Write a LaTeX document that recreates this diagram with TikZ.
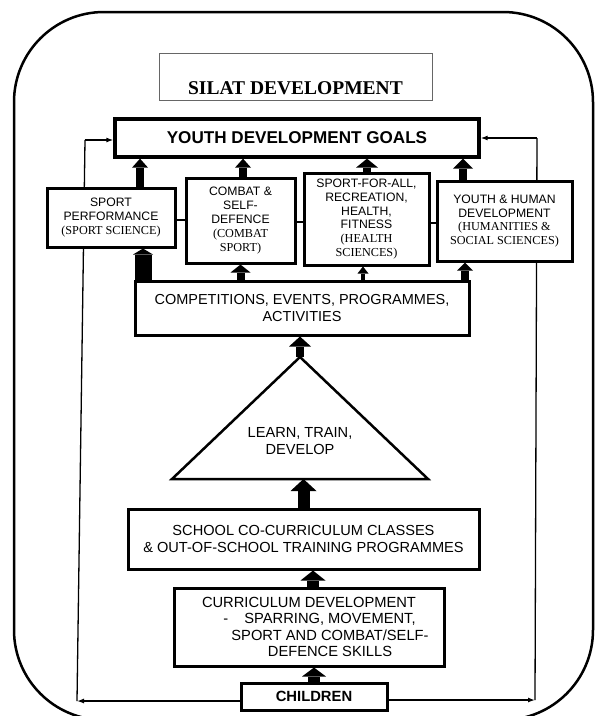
\documentclass[tikz,border=0pt]{standalone}
\usepackage{fontspec}
\setmainfont{Liberation Sans}
\newfontfamily\tnr{Liberation Serif}
\usetikzlibrary{arrows.meta}
\pgfdeclarelayer{bg}
\pgfsetlayers{bg,main}
\tikzset{
  box/.style={draw, line width=3pt, fill=white, inner sep=0pt, align=center},
  fS/.style={font=\fontsize{12.2}{13.8}\selectfont},
  fM/.style={font=\fontsize{14.6}{17}\selectfont},
  thinline/.style={line width=1.3pt},
  thinarr/.style={line width=1.3pt, -{Latex[length=7pt,width=5pt]}},
  blk/.style n args={3}{line width=#1pt, -{Triangle[width=#2pt,length=#3pt,line width=0pt]}},
}
\begin{document}
\begin{tikzpicture}[x=1pt,y=-1pt]
\useasboundingbox (0,0) rectangle (600,716);
\clip (0,0) rectangle (600,716);
% outer frame
\node[draw, line width=2.5pt, rounded corners=90pt, minimum width=579pt, minimum height=708pt, inner sep=0pt] (frame) at (303.5,366) {};
% title
\node[draw=black!60, line width=0.8pt, fill=white, anchor=base, inner xsep=0pt, inner ysep=0pt,
      minimum width=273pt, text height=41pt, text depth=6pt,
      font=\tnr\bfseries\fontsize{19.5}{22}\selectfont] (title) at (295.5,94) {SILAT DEVELOPMENT};
% goals
\node[box, line width=3.3pt, minimum width=364pt, minimum height=38pt,
      font=\bfseries\fontsize{17.1}{19}\selectfont] (goals) at (297,138) {YOUTH DEVELOPMENT GOALS};
% four boxes
\node[box, fS, minimum width=128pt, minimum height=59pt] (sp) at (111,217.5)
  {SPORT\\PERFORMANCE\\{\tnr (SPORT SCIENCE)}};
\node[box, fS, minimum width=109pt, minimum height=85pt] (combat) at (240.5,220.5)
  {COMBAT \&\\SELF-\\DEFENCE\\{\tnr (COMBAT}\\{\tnr SPORT)}};
\node[box, fS, minimum width=125pt, minimum height=92pt] (sfa) at (366.5,219)
  {SPORT-FOR-ALL,\\RECREATION,\\HEALTH,\\FITNESS\\{\tnr (HEALTH}\\{\tnr SCIENCES)}};
\node[box, fS, minimum width=135pt, minimum height=80pt] (yh) at (504.5,221)
  {YOUTH \& HUMAN\\DEVELOPMENT\\{\tnr (HUMANITIES \&}\\{\tnr SOCIAL SCIENCES)}};
% competitions
\node[box, font=\fontsize{14.5}{17}\selectfont, minimum width=334pt, minimum height=54pt] (comp) at (302,308)
  {COMPETITIONS, EVENTS, PROGRAMMES,\\ACTIVITIES};
% triangle
\coordinate (apex) at (300,357);
\coordinate (trir) at (428,479);
\coordinate (tril) at (172,479);
\draw[line width=2.5pt, line join=miter] (apex) -- (trir) -- (tril) -- cycle;
\node[fM, align=center, inner sep=0pt] (learn) at (300,441) {LEARN, TRAIN,\\DEVELOP};
% school
\node[box, fM, minimum width=351pt, minimum height=60pt] (school) at (303.5,539)
  {SCHOOL CO-CURRICULUM CLASSES\\\& OUT-OF-SCHOOL TRAINING PROGRAMMES};
% curriculum
\node[box, font=\fontsize{14.7}{16.5}\selectfont, minimum width=270pt, minimum height=78pt] (curr) at (309,627)
  {CURRICULUM DEVELOPMENT\\
   \hspace*{42pt}\llap{-\hspace{16pt}}SPARRING, MOVEMENT,\\
   \hspace*{42pt}SPORT AND COMBAT/SELF-\\
   \hspace*{42pt}DEFENCE SKILLS};
% children
\node[box, minimum width=146pt, minimum height=27pt,
      font=\bfseries\fontsize{14.8}{17}\selectfont] (children) at (314,696.5) {CHILDREN};

% thin connectors (behind boxes)
\coordinate (cl) at (77,701);
\coordinate (tl) at (85,140);
\coordinate (cr) at (535,700);
\coordinate (tr) at (537,138);
\begin{pgfonlayer}{bg}
  \draw[thinarr] (cl -| children.west) -- (cl);
  \draw[thinline] (cl) -- (tl);
  \draw[thinarr] (tl) -- (tl -| goals.west);
  \draw[thinarr] (cr -| children.east) -- (cr);
  \draw[thinline] (cr) -- (tr);
  \draw[thinarr] (tr) -- (tr -| goals.east);
  \coordinate (h1) at (0,220);
  \coordinate (h2) at (0,222);
  \coordinate (h3) at (0,223);
  \draw[thinline] (h1 -| sp.east) -- (h1 -| combat.west);
  \draw[thinline] (h2 -| combat.west) -- (h2 -| sfa.west);
  \draw[thinline] (h3 -| sfa.west) -- (h3 -| yh.west);
\end{pgfonlayer}

% block arrows to goals
\coordinate (a1) at ([xshift=29pt]sp.north);
\coordinate (a2) at ([xshift=2.5pt]combat.north);
\coordinate (a3) at ([xshift=0.5pt]sfa.north);
\coordinate (a4) at ([xshift=-41.5pt]yh.north);
\draw[blk={8}{16}{9}] (a1) -- (a1 |- goals.south);
\draw[blk={8}{16}{9}] (a2) -- (a2 |- goals.south);
\draw[blk={8}{22}{9}] (a3) -- (a3 |- goals.south);
\draw[blk={8}{20}{10}] (a4) -- (a4 |- goals.south);
% block arrows from competitions
\coordinate (b1) at ([xshift=32pt]sp.south);
\coordinate (b2) at (combat.south);
\coordinate (b3) at ([xshift=-3.5pt]sfa.south);
\coordinate (b4) at ([xshift=-39.5pt]yh.south);
\draw[blk={17}{20}{6}] (b1 |- comp.north) -- (b1);
\draw[blk={8}{20}{8}] (b2 |- comp.north) -- (b2);
\draw[blk={4}{11}{7}] (b3 |- comp.north) -- (b3);
\draw[blk={8}{16}{8}] (b4 |- comp.north) -- (b4);
% vertical chain
\draw[blk={8}{22}{10}] (apex) -- (apex |- comp.south);
\coordinate (s1) at (school.north);
\draw[blk={12}{26}{12}] (s1) -- (s1 |- tril);
\coordinate (c1) at ([xshift=4pt]curr.north);
\draw[blk={12}{25}{10}] (c1) -- (c1 |- school.south);
\draw[blk={12}{24}{9}] (children.north) -- (children.north |- curr.south);
\end{tikzpicture}
\end{document}
